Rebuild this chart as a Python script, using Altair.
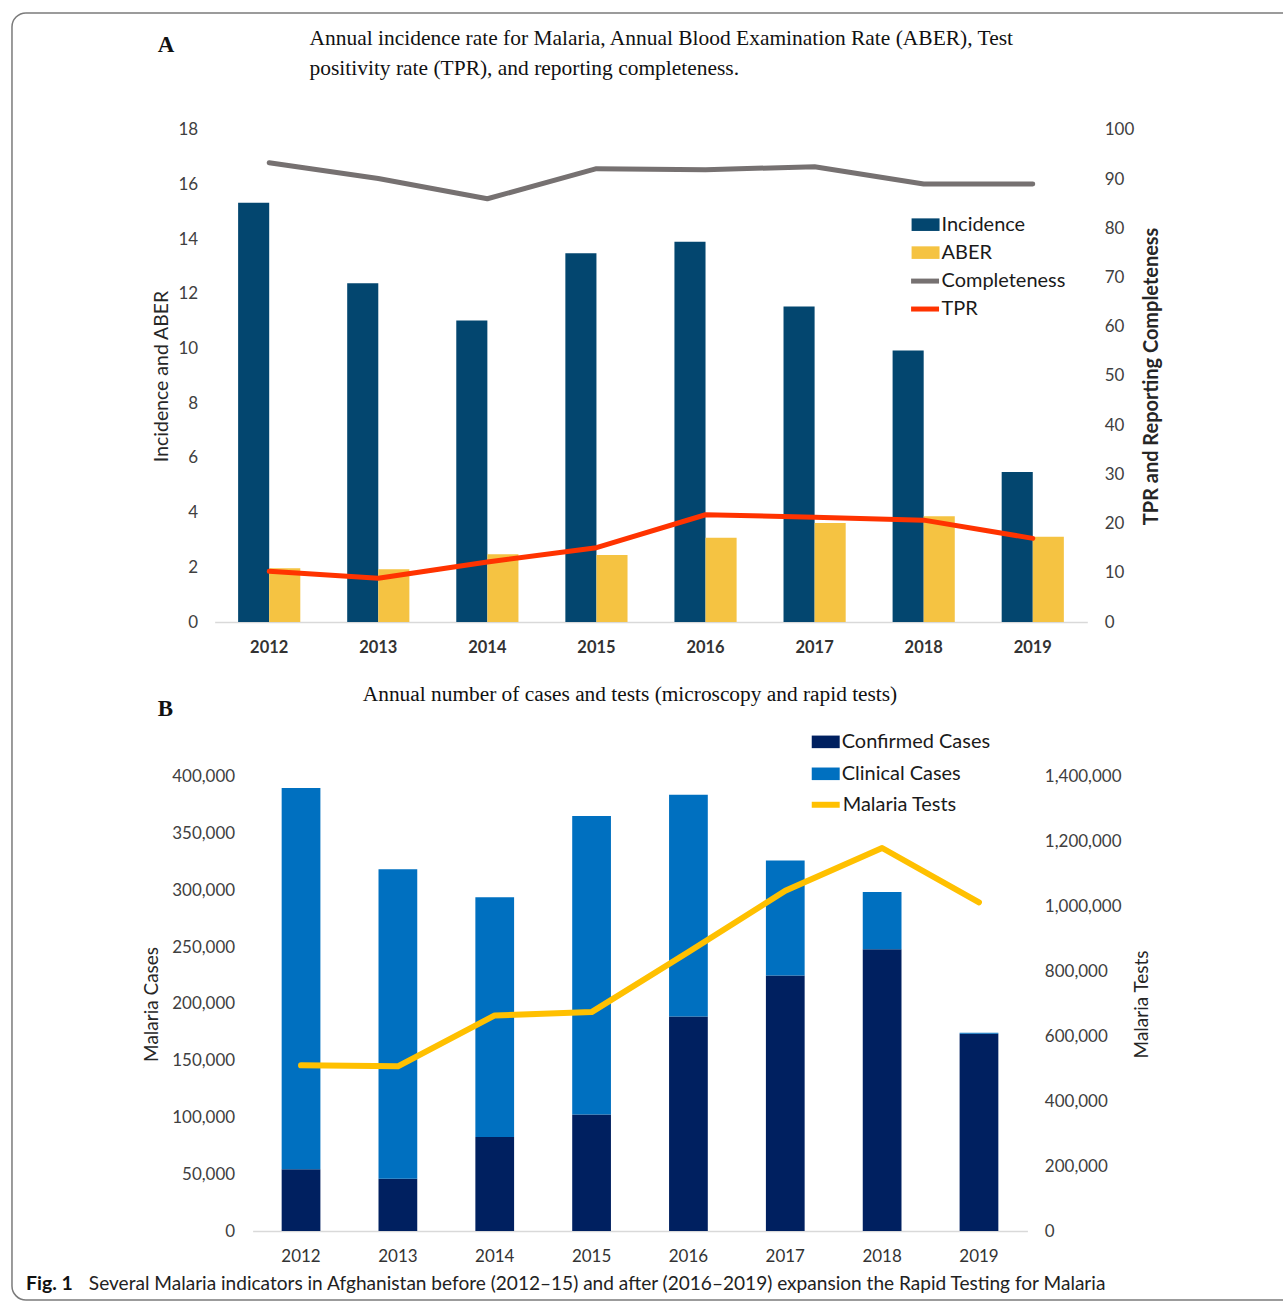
import altair as alt
import pandas as pd

years = ["2012", "2013", "2014", "2015", "2016", "2017", "2018", "2019"]

# Panel A
incidence = [15.33, 12.39, 11.03, 13.49, 13.91, 11.54, 9.93, 5.49]
aber = [1.97, 1.93, 2.48, 2.45, 3.08, 3.62, 3.87, 3.12]
completeness = [93.3, 90.1, 86.0, 92.1, 91.9, 92.5, 89.0, 89.0]
tpr = [10.3, 8.9, 12.2, 15.1, 21.8, 21.3, 20.7, 17.0]

# Panel B
confirmed = [54500, 46000, 82900, 102600, 189000, 225000, 248200, 173800]
clinical = [335600, 272500, 211000, 262800, 195200, 101200, 50400, 800]
tests = [510800, 507700, 664600, 674900, 860000, 1049000, 1180600, 1013200]

a_bar_series = ["Incidence", "ABER"]
a_line_series = ["Completeness", "TPR"]
b_bar_series = ["Confirmed Cases", "Clinical Cases"]
b_line_series = ["Malaria Tests"]

a_bars = pd.DataFrame({"year": years * 2,
                       "series": [a_bar_series[0]] * 8 + [a_bar_series[1]] * 8,
                       "value": incidence + aber})
a_lines = pd.DataFrame({"year": years * 2,
                        "series": [a_line_series[0]] * 8 + [a_line_series[1]] * 8,
                        "value": completeness + tpr})
b_bars = pd.DataFrame({"year": years * 2,
                       "series": [b_bar_series[0]] * 8 + [b_bar_series[1]] * 8,
                       "value": confirmed + clinical})
b_line = pd.DataFrame({"year": years, "series": b_line_series * 8, "value": tests})

SANS = "Lato"
SERIF = "Liberation Serif"
LBL = "#404040"
BORDER = "#7a7a7a"
COMMA = "format(datum.value, ',')"

one = pd.DataFrame({"k": [0]})


def label(text, x, y, size, font, weight="normal", align="left", color="#111111", line_height=None):
    kw = dict(align=align, baseline="alphabetic", font=font, fontSize=size,
              fontWeight=weight, color=color)
    if line_height is not None:
        kw["lineHeight"] = line_height
    return alt.Chart(one).mark_text(**kw).encode(
        x=alt.value(x), y=alt.value(y), text=alt.value(text))


def hrule(x1, x2, y):
    return alt.Chart(one).mark_rule(color=BORDER, strokeWidth=1.5).encode(
        x=alt.value(x1), x2=alt.value(x2), y=alt.value(y))


def vrule(x, y1, y2):
    return alt.Chart(one).mark_rule(color=BORDER, strokeWidth=1.5).encode(
        x=alt.value(x), y=alt.value(y1), y2=alt.value(y2))


def corner(cx, cy, t1, t2):
    return alt.Chart(one).mark_arc(theta=t1, theta2=t2, radius=14.75, radius2=13.25,
                                   color=BORDER).encode(x=alt.value(cx), y=alt.value(cy))


def bar_legend(x, y, row_pad):
    return alt.Legend(orient="none", legendX=x, legendY=y, title=None,
                      symbolType="M-1,-0.45H1V0.45H-1Z", symbolSize=784,
                      symbolStrokeWidth=0, labelFont=SANS, labelFontSize=20,
                      labelColor="#1a1a1a", labelOffset=2, rowPadding=row_pad,
                      padding=0, labelLimit=400)


def line_legend(x, y, row_pad, width):
    return alt.Legend(orient="none", legendX=x, legendY=y, title=None,
                      symbolType="stroke", symbolSize=784, symbolStrokeWidth=width,
                      labelFont=SANS, labelFontSize=20, labelColor="#1a1a1a",
                      labelOffset=0, rowPadding=row_pad, padding=0, labelLimit=400)


# ---------------- Panel A ----------------
A_W, A_H = 874, 493

xA = alt.X("year:N", sort=years,
           scale=alt.Scale(paddingInner=0.43, paddingOuter=0.215),
           axis=alt.Axis(title=None, labelAngle=0, labelFont=SANS, labelFontSize=16.5,
                         labelFontWeight="bold", labelColor="#333333", labelPadding=18,
                         ticks=False, domainColor="#d9d9d9", domainWidth=1.5))

barsA = alt.Chart(a_bars).mark_bar().encode(
    x=xA,
    xOffset=alt.XOffset("series:N", sort=a_bar_series,
                        scale=alt.Scale(paddingInner=0, paddingOuter=0)),
    y=alt.Y("value:Q", scale=alt.Scale(domain=[0, 18], nice=False),
            axis=alt.Axis(values=list(range(0, 19, 2)), domain=False, ticks=False, grid=False,
                          labelFont=SANS, labelFontSize=17, labelColor=LBL, labelPadding=17,
                          title="Incidence and ABER", titleFont=SANS, titleFontSize=19.5,
                          titleFontWeight="normal", titleColor="#262626", titlePadding=7)),
    color=alt.Color("series:N",
                    scale=alt.Scale(domain=a_bar_series, range=["#03466F", "#F5C342"]),
                    legend=bar_legend(698, 81, 4)),
)

linesA = alt.Chart(a_lines).mark_line(strokeWidth=5, strokeCap="round", strokeJoin="round").encode(
    x=alt.X("year:N", sort=years),
    y=alt.Y("value:Q", scale=alt.Scale(domain=[0, 100], nice=False),
            axis=alt.Axis(orient="right", values=list(range(0, 101, 10)), domain=False,
                          ticks=False, grid=False, labelFont=SANS, labelFontSize=17,
                          labelColor=LBL, labelPadding=17,
                          title="TPR and Reporting Completeness", titleFont=SANS,
                          titleFontSize=20, titleFontWeight="bold", titleColor="#262626",
                          titleAngle=270, titlePadding=28)),
    stroke=alt.Stroke("series:N",
                      scale=alt.Scale(domain=a_line_series, range=["#767171", "#FF3300"]),
                      legend=line_legend(695, 135, 1, 5)),
)

title_a = label(["Annual incidence rate for Malaria, Annual Blood Examination Rate (ABER), Test",
                 "positivity rate (TPR), and reporting completeness."],
                95, -85, 21.5, SERIF, line_height=30)
letter_a = label("A", -57, -78, 23, SERIF, weight="bold")

border = [
    hrule(-189, 1070, -117),
    vrule(-203, -103, 1158),
    corner(-189, -103, 4.7124, 6.2832),
    corner(-189, 1158, 3.1416, 4.7124),
    hrule(-189, 1070, 1172),
]

chartA = alt.layer(*border, barsA, linesA, title_a, letter_a).resolve_scale(
    y="independent").properties(width=A_W, height=A_H)

# ---------------- Panel B ----------------
B_W, B_H = 814, 455

xB = alt.X("year:N", sort=years,
           scale=alt.Scale(range=[38, 814], paddingInner=0.6, paddingOuter=0.3),
           axis=alt.Axis(title=None, labelAngle=0, labelFont=SANS, labelFontSize=17,
                         labelColor="#333333", labelPadding=17, ticks=False,
                         domainColor="#d9d9d9", domainWidth=1.5))

barsB = alt.Chart(b_bars).mark_bar().encode(
    x=xB,
    y=alt.Y("value:Q", stack="zero", scale=alt.Scale(domain=[0, 400000], nice=False),
            axis=alt.Axis(values=list(range(0, 400001, 50000)), labelExpr=COMMA, domain=False,
                          ticks=False, grid=False, offset=-38, labelFont=SANS,
                          labelFontSize=17, labelColor=LBL, labelPadding=18,
                          title="Malaria Cases", titleFont=SANS, titleFontSize=19,
                          titleFontWeight="normal", titleColor="#262626", titlePadding=10)),
    color=alt.Color("series:N",
                    scale=alt.Scale(domain=b_bar_series, range=["#002060", "#0070C0"]),
                    legend=bar_legend(598, -49, 8)),
    order=alt.Order("series:N", sort="descending"),
)

lineB = alt.Chart(b_line).mark_line(strokeWidth=6, strokeCap="round", strokeJoin="round").encode(
    x=alt.X("year:N", sort=years),
    y=alt.Y("value:Q", scale=alt.Scale(domain=[0, 1400000], nice=False),
            axis=alt.Axis(orient="right", values=list(range(0, 1400001, 200000)),
                          labelExpr=COMMA, domain=False, ticks=False, grid=False,
                          labelFont=SANS, labelFontSize=17, labelColor=LBL, labelPadding=17,
                          title="Malaria Tests", titleFont=SANS, titleFontSize=19,
                          titleFontWeight="normal", titleColor="#262626",
                          titleAngle=270, titlePadding=31)),
    stroke=alt.Stroke("series:N",
                      scale=alt.Scale(domain=b_line_series, range=["#FFC000"]),
                      legend=line_legend(595, 11, 0, 6)),
)

title_b = label("Annual number of cases and tests (microscopy and rapid tests)",
                416, -76, 21.4, SERIF, align="center")
letter_b = label("B", -57, -61, 23, SERIF, weight="bold")
cap1 = label("Fig. 1", -189, 514, 19.5, SANS, weight="bold")
cap2 = label("Several Malaria indicators in Afghanistan before (2012\u201315) and after "
             "(2016\u20132019) expansion the Rapid Testing for Malaria",
             -126, 514, 19.1, SANS, color="#222222")

chartB = alt.layer(barsB, lineB, title_b, letter_b, cap1, cap2).resolve_scale(
    y="independent").properties(width=B_W, height=B_H)

chart = alt.vconcat(chartA, chartB, spacing=155, bounds="flush").resolve_scale(
    color="independent", stroke="independent").properties(
    padding={"left": 10, "top": 10, "right": 0, "bottom": 0}
).configure_view(stroke="transparent")

chart.save("out.html", embed_options={"renderer": "svg", "actions": False})
